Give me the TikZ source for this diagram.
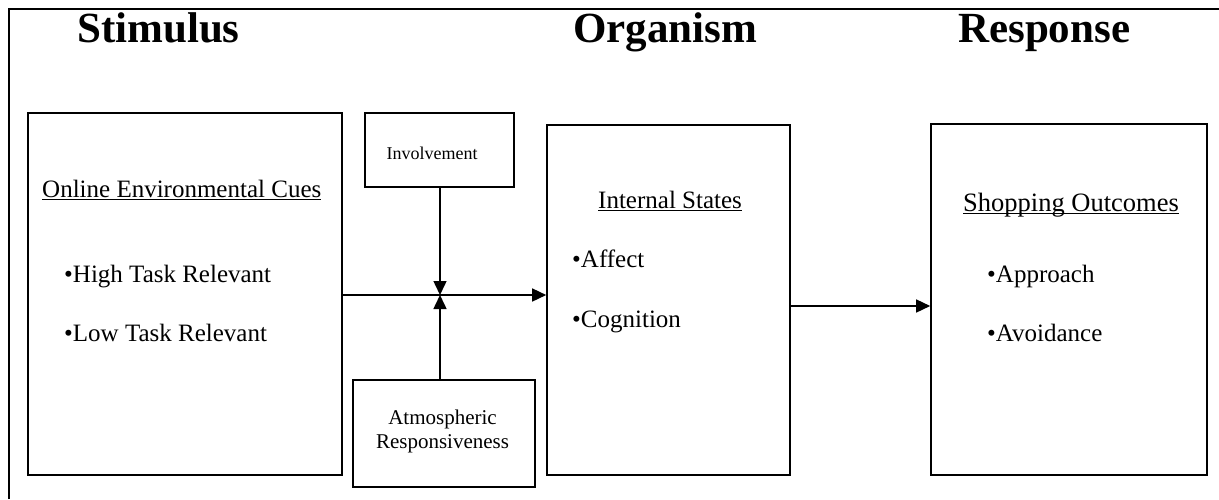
\documentclass[tikz,border=0pt]{standalone}
\usepackage{fontspec}
\setmainfont{Liberation Serif}
\usetikzlibrary{arrows.meta}
\newcommand\myul[1]{\setbox0\hbox{#1}\rlap{\rule[-3pt]{\wd0}{1.2pt}}\box0}
\begin{document}
\begin{tikzpicture}[x=1pt,y=-1pt,
  box/.style={draw,line width=1.6pt,rectangle,inner sep=0pt},
  txt/.style={inner sep=0pt,anchor=base west,font=\fontsize{25}{30}\selectfont},
  ttl/.style={inner sep=0pt,anchor=base west,font=\fontsize{43}{50}\selectfont\bfseries},
  small/.style={inner sep=0pt,anchor=base,font=\fontsize{18}{22}\selectfont},
  mid/.style={inner sep=0pt,anchor=base,font=\fontsize{21}{24}\selectfont},
  arr/.style={line width=1.5pt,-{Triangle[length=14pt,width=13pt]}}]
\useasboundingbox (0,0) rectangle (1219,499);
% frame
\draw[line width=2.2pt] (9,499) -- (9,9) -- (1219,9);
% titles
\node[ttl] (tS) at (77,42) {Stimulus};
\node[ttl] (tO) at (573,42) {Organism};
\node[ttl] (tR) at (958,42) {Response};
% boxes
\node[box,minimum width=314pt,minimum height=362pt] (env) at (185,294) {};
\node[box,minimum width=149pt,minimum height=74pt] (inv) at (439.5,150) {};
\node[box,minimum width=182pt,minimum height=107pt] (atm) at (444,433.5) {};
\node[box,minimum width=243pt,minimum height=350pt] (org) at (668.5,300) {};
\node[box,minimum width=276pt,minimum height=351pt] (out) at (1069,299.5) {};
% texts
\node[txt] (e1) at (42,197) {\myul{Online Environmental Cues}};
\node[txt] (e2) at (64,282) {•High Task Relevant};
\node[txt] (e3) at (64,341) {•Low Task Relevant};
\node[small] (i1) at (432,159) {Involvement};
\node[mid] (a1) at (442.5,424) {Atmospheric};
\node[mid] (a2) at (442.5,448) {Responsiveness};
\node[txt] (o1) at (598,208) {\myul{Internal States}};
\node[txt] (o2) at (572,267) {•Affect};
\node[txt] (o3) at (572,327) {•Cognition};
\node[txt,font=\fontsize{26.5}{30}\selectfont] (r1) at (963,211) {\myul{Shopping Outcomes}};
\node[txt] (r2) at (987,282) {•Approach};
\node[txt] (r3) at (987,341) {•Avoidance};
% connectors
\coordinate (cross) at (440,295);
\coordinate (lvl) at (860,306);
\draw[arr] (env.east |- cross) -- (org.west |- cross);
\draw[arr] (inv.south -| cross) -- (cross);
\draw[arr] (atm.north -| cross) -- (cross);
\draw[arr] (org.east |- lvl) -- (out.west |- lvl);
\end{tikzpicture}
\end{document}
